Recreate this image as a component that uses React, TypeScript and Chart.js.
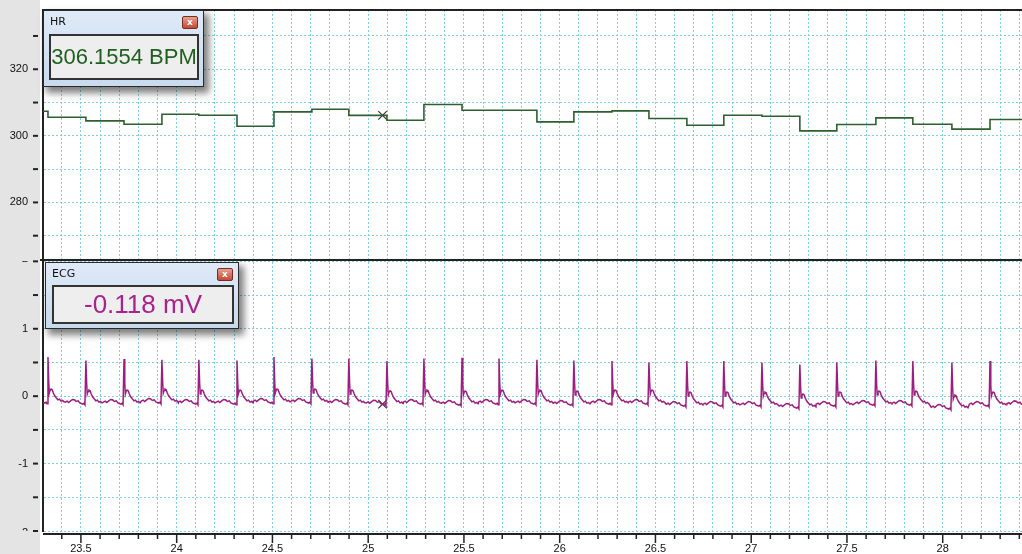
import React, { useEffect, useRef } from "react";
import { Chart, registerables } from "chart.js";
Chart.register(...registerables);

// ---- axis ranges ----
const X_MIN = 23.302;
const X_MAX = 28.414;
const HR_MIN = 262.7;
const HR_MAX = 337.8;
const ECG_MIN = -2;
const ECG_MAX = 2.02;

// ---- beats (R-peak times, s) ----
const beatTimes = [
  23.328, 23.526, 23.725, 23.923, 24.116, 24.315, 24.508, 24.706, 24.899, 25.098,
  25.291, 25.49, 25.683, 25.881, 26.074, 26.273, 26.466, 26.664, 26.857, 27.056,
  27.254, 27.447, 27.651, 27.844, 28.048, 28.247, 28.443,
];

// ---- HR (BPM), value held after each beat ----
const hrStart = 307.4;
const hrValues = [
  305.6, 304.5, 303.5, 306.5, 306.2, 302.9, 307.2, 308.0, 306.16, 304.7,
  309.4, 307.7, 307.7, 304.2, 307.2, 307.5, 305.2, 303.2, 306.2, 305.9,
  301.5, 303.4, 305.4, 303.5, 302.0, 304.9, 304.9,
];

// ---- ECG (mV) ----
const rPeaks = [
  0.58, 0.53, 0.55, 0.54, 0.54, 0.53, 0.58, 0.56, 0.56, 0.52,
  0.56, 0.57, 0.56, 0.54, 0.53, 0.52, 0.5, 0.52, 0.52, 0.5,
  0.47, 0.5, 0.53, 0.52, 0.5, 0.52, 0.52,
];
const beatBaselines = [
  -0.074, -0.089, -0.089, -0.074, -0.089, -0.089, -0.074, -0.074, -0.089, -0.1,
  -0.089, -0.104, -0.089, -0.089, -0.104, -0.089, -0.089, -0.119, -0.119, -0.119,
  -0.148, -0.119, -0.104, -0.104, -0.163, -0.119, -0.11,
];
// beat shape: offset from R (s) and level above baseline (mV)
const beatOffsets = [
  -0.108, -0.098, -0.09, -0.08, -0.07, -0.06, -0.05, -0.04, -0.032, -0.024, -0.016, -0.01, -0.005,
  0, 0.004, 0.007, 0.011, 0.016, 0.022, 0.028, 0.035, 0.043, 0.052, 0.06, 0.068, 0.076, 0.084,
];
const beatShape = [
  0.0, 0.015, -0.005, 0.02, 0.04, 0.035, 0.01, 0.02, -0.01, -0.02, -0.03, -0.015, -0.04,
  0, 0.28, 0.12, 0.16, 0.18, 0.17, 0.12, 0.08, 0.05, 0.02, 0.03, 0.0, 0.01, -0.01,
];

// ---- cursor readout ----
const cursorTime = 25.075;
const hrCursor = 306.1554;
const ecgCursor = -0.118;
const hrReadout = "306.1554 BPM";
const ecgReadout = "-0.118 mV";

const GRID = "#80d0d9";
const DARK = "#222222";
const FONT = "Liberation Sans";

function buildHr() {
  const pts = [{ x: X_MIN - 0.05, y: hrStart }];
  beatTimes.forEach((t, i) => pts.push({ x: t, y: hrValues[i] }));
  pts.push({ x: X_MAX + 0.1, y: hrValues[hrValues.length - 1] });
  return pts;
}

function buildEcg() {
  const pts: { x: number; y: number }[] = [];
  beatTimes.forEach((t, i) => {
    beatOffsets.forEach((o, k) => {
      const y = o === 0 ? rPeaks[i] : beatBaselines[i] + beatShape[k];
      pts.push({ x: t + o, y });
    });
  });
  pts.sort((a, b) => a.x - b.x);
  return pts;
}

function noPad(s: any) {
  s.paddingTop = 0;
  s.paddingBottom = 0;
  s.paddingLeft = 0;
  s.paddingRight = 0;
}

const framePlugin = {
  id: "frame",
  beforeDraw(chart: any) {
    const ctx = chart.ctx;
    ctx.save();
    ctx.fillStyle = "#ffffff";
    ctx.fillRect(0, 0, chart.width, chart.height);
    ctx.fillStyle = "#e4e4e4";
    ctx.fillRect(0, 0, 40, chart.height);
    ctx.restore();
  },
  afterDraw(chart: any) {
    const ctx = chart.ctx;
    const a = chart.chartArea;
    const yHR = chart.scales.yHR;
    const yECG = chart.scales.yECG;
    const xs = chart.scales.x;
    ctx.save();
    ctx.strokeStyle = DARK;
    ctx.lineWidth = 2;
    // top border
    ctx.beginPath();
    ctx.moveTo(a.left, a.top);
    ctx.lineTo(a.right, a.top);
    ctx.stroke();
    // panel separator
    const sep = yHR.bottom;
    ctx.beginPath();
    ctx.moveTo(a.left - 3, sep);
    ctx.lineTo(a.right, sep);
    ctx.stroke();
    // x axis line
    const axY = a.bottom + 3;
    ctx.beginPath();
    ctx.moveTo(a.left, axY);
    ctx.lineTo(a.right, axY);
    ctx.stroke();
    // x tick marks
    ctx.lineWidth = 1.5;
    for (const t of xs.ticks) {
      const px = xs.getPixelForValue(t.value);
      const major = Math.abs(t.value * 2 - Math.round(t.value * 2)) < 1e-6;
      ctx.beginPath();
      ctx.moveTo(px, axY);
      ctx.lineTo(px, axY + (major ? 9 : 5));
      ctx.stroke();
    }
    // y tick marks
    ctx.lineWidth = 2;
    for (const sc of [yHR, yECG]) {
      for (const t of sc.ticks) {
        const py = sc.getPixelForValue(t.value);
        ctx.beginPath();
        ctx.moveTo(33, py);
        ctx.lineTo(38, py);
        ctx.stroke();
      }
    }
    // clipped edge labels of the ECG axis
    ctx.beginPath();
    ctx.rect(0, yECG.top + 1, 40, yECG.bottom - yECG.top - 1);
    ctx.clip();
    ctx.fillStyle = "#111";
    ctx.font = `11px ${FONT}`;
    ctx.textAlign = "right";
    ctx.textBaseline = "middle";
    ctx.fillText("2", 28, yECG.getPixelForValue(2) - 2);
    ctx.fillText("-2", 28, yECG.getPixelForValue(-2) + 2);
    ctx.restore();
  },
};

function Readout(props: {
  left: number; top: number; width: number; height: number;
  title: string; value: string; color: string; fontSize: number;
  inL: number; inR: number; inT: number; inB: number;
}) {
  const { left, top, width, height, title, value, color, fontSize, inL, inR, inT, inB } = props;
  return (
    <div
      style={{
        position: "absolute", left, top, width, height, boxSizing: "border-box",
        border: "1px solid #2a2a2a",
        background: "linear-gradient(#dfeaf7, #c8daee)",
        boxShadow: "4px 5px 7px 1px rgba(0,0,0,0.5)",
        fontFamily: "'DejaVu Sans', sans-serif",
      }}
    >
      <div style={{ position: "absolute", left: 6, top: 4, fontSize: 11, color: "#111" }}>{title}</div>
      <div
        style={{
          position: "absolute", right: 5, top: 5, width: 16, height: 13, boxSizing: "border-box",
          borderRadius: 2, border: "1px solid #7a2a20",
          background: "linear-gradient(#e8a090, #c24a35)",
          color: "#fff", fontSize: 9, fontWeight: "bold", lineHeight: "10px", textAlign: "center",
        }}
      >
        x
      </div>
      <div
        style={{
          position: "absolute", left: inL, right: inR, top: inT, bottom: inB, boxSizing: "border-box",
          border: "2px solid #333", background: "#eeeeee",
          display: "flex", alignItems: "center", justifyContent: "center",
          whiteSpace: "nowrap", overflow: "hidden",
          color, fontSize, fontFamily: `'${FONT}', Arial, sans-serif`,
        }}
      >
        {value}
      </div>
    </div>
  );
}

export default function App() {
  const ref = useRef<HTMLCanvasElement>(null);
  useEffect(() => {
    if (!ref.current) return;
    const chart = new Chart(ref.current, {
      type: "line",
      data: {
        datasets: [
          {
            label: "HR",
            data: buildHr(),
            yAxisID: "yHR",
            stepped: "before",
            borderColor: "#2f5f2f",
            borderWidth: 1.6,
            pointRadius: 0,
          },
          {
            label: "ECG",
            data: buildEcg(),
            yAxisID: "yECG",
            borderColor: "#9e1e80",
            borderWidth: 1.5,
            pointRadius: 0,
            tension: 0,
          },
          {
            label: "cursorHR",
            data: [{ x: cursorTime, y: hrCursor }],
            yAxisID: "yHR",
            showLine: false,
            pointStyle: "crossRot",
            pointRadius: 6,
            borderColor: "#333",
            borderWidth: 1.2,
          },
          {
            label: "cursorECG",
            data: [{ x: cursorTime, y: ecgCursor }],
            yAxisID: "yECG",
            showLine: false,
            pointStyle: "crossRot",
            pointRadius: 6,
            borderColor: "#333",
            borderWidth: 1.2,
          },
        ],
      },
      options: {
        responsive: false,
        animation: false,
        devicePixelRatio: 1,
        layout: { autoPadding: false, padding: { top: 10, left: 0, right: 0, bottom: 0 } },
        plugins: { legend: { display: false }, tooltip: { enabled: false } },
        scales: {
          x: {
            type: "linear",
            min: X_MIN,
            max: X_MAX,
            afterFit: (s: any) => { s.height = 23; noPad(s); },
            border: { display: false, dash: [2, 2] },
            grid: { color: GRID, lineWidth: 1, drawTicks: false },
            ticks: {
              stepSize: 0.1,
              includeBounds: false,
              autoSkip: false,
              maxRotation: 0,
              padding: 11,
              color: "#111",
              font: { family: FONT, size: 11 },
              callback: (v: any) => {
                const n = Number(v);
                return Math.abs(n * 2 - Math.round(n * 2)) < 1e-6 ? String(Number(n.toFixed(1))) : "";
              },
            },
          },
          yHR: {
            type: "linear",
            position: "left",
            stack: "panels",
            stackWeight: 250,
            weight: 2,
            min: HR_MIN,
            max: HR_MAX,
            afterFit: (s: any) => { s.width = 43; noPad(s); },
            border: { display: true, color: DARK, width: 2, dash: [2, 2] },
            grid: { color: GRID, lineWidth: 1, drawTicks: false },
            ticks: {
              stepSize: 10,
              includeBounds: false,
              autoSkip: false,
              padding: 15,
              color: "#111",
              font: { family: FONT, size: 11 },
              callback: (v: any) => (Math.round(Number(v)) % 20 === 0 ? String(Math.round(Number(v))) : ""),
            },
          },
          yECG: {
            type: "linear",
            position: "left",
            stack: "panels",
            stackWeight: 271,
            weight: 1,
            min: ECG_MIN,
            max: ECG_MAX,
            afterFit: (s: any) => { s.width = 43; noPad(s); },
            border: { display: true, color: DARK, width: 2, dash: [2, 2] },
            grid: { color: GRID, lineWidth: 1, drawTicks: false },
            ticks: {
              stepSize: 0.5,
              includeBounds: false,
              autoSkip: false,
              padding: 15,
              color: "#111",
              font: { family: FONT, size: 11 },
              callback: (v: any) => {
                const n = Number(v);
                return Number.isInteger(n) && Math.abs(n) < 2 ? String(n) : "";
              },
            },
          },
        },
      } as any,
      plugins: [framePlugin],
    });
    return () => chart.destroy();
  }, []);

  return (
    <div style={{ position: "fixed", left: 0, top: 0, width: 1022, height: 554, background: "#fff" }}>
      <canvas ref={ref} width={1022} height={554} style={{ display: "block" }} />
      <Readout
        left={43} top={10} width={161} height={77}
        title="HR" value={hrReadout} color="#1f5f1f" fontSize={22}
        inL={5} inR={4} inT={23} inB={6}
      />
      <Readout
        left={45} top={262} width={194} height={67}
        title="ECG" value={ecgReadout} color="#a8238c" fontSize={26}
        inL={6} inR={4} inT={22} inB={4}
      />
    </div>
  );
}
